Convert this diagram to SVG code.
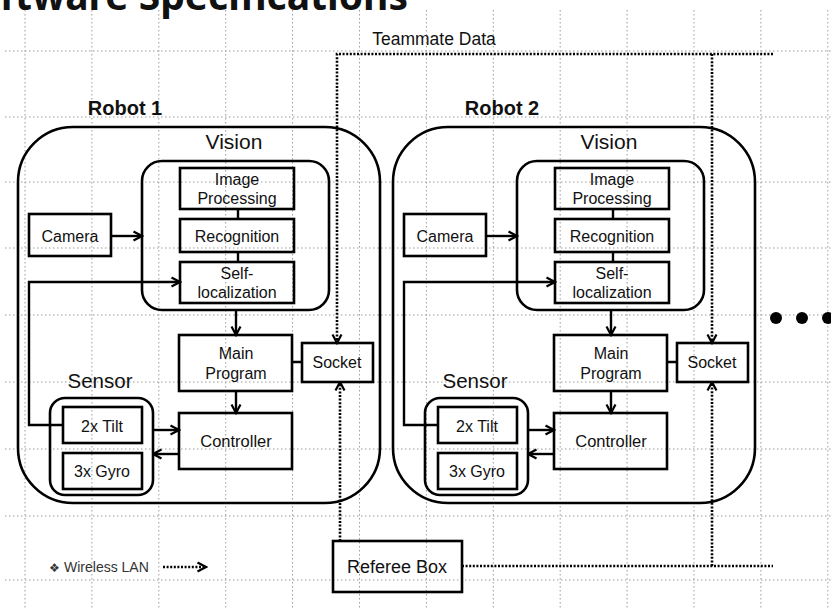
<svg xmlns="http://www.w3.org/2000/svg" width="831" height="609" viewBox="0 0 831 609">
<style>
.grid{fill:none;stroke:#9a9a9a;stroke-width:1;stroke-dasharray:1.5,2.5}
.box{fill:none;stroke:#000;stroke-width:2.6}
.ln{fill:none;stroke:#000;stroke-width:2.4}
.dot{fill:none;stroke:#000;stroke-width:2.6;stroke-dasharray:2,1.6}
text{font-family:"Liberation Sans","Noto Sans CJK KR",sans-serif;fill:#111}
.t{font-size:16px;text-anchor:middle}
.big{font-size:21px;text-anchor:middle}
.bold{font-weight:bold}
</style>
<defs>
<marker id="ah" viewBox="0 0 12 12" refX="10.5" refY="6" markerWidth="12" markerHeight="12" markerUnits="userSpaceOnUse" orient="auto">
<path d="M2,1.5 L10.5,6 L2,10.5" fill="none" stroke="#000" stroke-width="2.2"/>
</marker>
</defs>
<rect width="831" height="609" fill="#fff"/>
<g id="grid">
<path class="grid" d="M25,10V609M91.9,10V609M158.8,10V609M225.7,10V609M292.6,10V609M359.5,10V609M426.4,10V609M493.3,10V609M560.2,10V609M627.1,10V609M694,10V609M760.9,10V609M827.8,10V609"/>
<path class="grid" d="M5,51H831M5,117H831M5,182H831M5,248H831M5,315H831M5,382H831M5,449H831M5,516H831M5,580H831"/>
</g>
<text id="title" x="408" y="10" class="bold" style="font-family:'Noto Sans',sans-serif;font-size:39px;text-anchor:end">ftware Specifications</text>
<g id="robot1">
<text x="125" y="115" class="bold" style="font-size:20px;text-anchor:middle">Robot 1</text>
<rect id="r1-frame" class="box" x="18" y="127" width="362" height="376" rx="55"/>
<g id="r1-vision">
<text x="234" y="149" class="big">Vision</text>
<rect class="box" x="142" y="161" width="187" height="149" rx="20"/>
</g>
<g id="r1-image"><rect class="box" x="180" y="168" width="114" height="41"/><text x="237" y="185" class="t">Image</text><text x="237" y="204" class="t">Processing</text></g>
<g id="r1-recog"><rect class="box" x="180" y="219" width="114" height="33"/><text x="237" y="242" class="t">Recognition</text></g>
<g id="r1-self"><rect class="box" x="180" y="262" width="114" height="41"/><text x="237" y="278.5" class="t">Self-</text><text x="237" y="297.5" class="t">localization</text></g>
<g id="r1-camera"><rect class="box" x="29" y="214" width="82" height="42"/><text x="70" y="242" class="t">Camera</text></g>
<g id="r1-main"><rect class="box" x="179" y="335" width="113" height="56"/><text x="236" y="359" class="t">Main</text><text x="236" y="379" class="t">Program</text></g>
<g id="r1-socket"><rect class="box" x="302" y="343" width="71" height="39"/><text x="337" y="368" class="t">Socket</text></g>
<g id="r1-controller"><rect class="box" x="179" y="413" width="113" height="56"/><text x="236" y="447" class="t" style="font-size:16.5px">Controller</text></g>
<g id="r1-sensor">
<text x="100" y="388" class="big" style="font-size:20.5px">Sensor</text>
<rect class="box" x="50" y="398" width="103" height="97" rx="15"/>
</g>
<g id="r1-tilt"><rect class="box" x="63" y="407" width="79" height="36"/><text x="102" y="432" class="t">2x Tilt</text></g>
<g id="r1-gyro"><rect class="box" x="63" y="453" width="79" height="36"/><text x="102" y="477" class="t">3x Gyro</text></g>
</g>
<g id="robot2" transform="translate(375,0)">
<text x="127" y="115" class="bold" style="font-size:20px;text-anchor:middle">Robot 2</text>
<rect id="r2-frame" class="box" x="18" y="127" width="362" height="376" rx="55"/>
<g id="r2-vision">
<text x="234" y="149" class="big">Vision</text>
<rect class="box" x="142" y="161" width="187" height="149" rx="20"/>
</g>
<g id="r2-image"><rect class="box" x="180" y="168" width="114" height="41"/><text x="237" y="185" class="t">Image</text><text x="237" y="204" class="t">Processing</text></g>
<g id="r2-recog"><rect class="box" x="180" y="219" width="114" height="33"/><text x="237" y="242" class="t">Recognition</text></g>
<g id="r2-self"><rect class="box" x="180" y="262" width="114" height="41"/><text x="237" y="278.5" class="t">Self-</text><text x="237" y="297.5" class="t">localization</text></g>
<g id="r2-camera"><rect class="box" x="29" y="214" width="82" height="42"/><text x="70" y="242" class="t">Camera</text></g>
<g id="r2-main"><rect class="box" x="179" y="335" width="113" height="56"/><text x="236" y="359" class="t">Main</text><text x="236" y="379" class="t">Program</text></g>
<g id="r2-socket"><rect class="box" x="302" y="343" width="71" height="39"/><text x="337" y="368" class="t">Socket</text></g>
<g id="r2-controller"><rect class="box" x="179" y="413" width="113" height="56"/><text x="236" y="447" class="t" style="font-size:16.5px">Controller</text></g>
<g id="r2-sensor">
<text x="100" y="388" class="big" style="font-size:20.5px">Sensor</text>
<rect class="box" x="50" y="398" width="103" height="97" rx="15"/>
</g>
<g id="r2-tilt"><rect class="box" x="63" y="407" width="79" height="36"/><text x="102" y="432" class="t">2x Tilt</text></g>
<g id="r2-gyro"><rect class="box" x="63" y="453" width="79" height="36"/><text x="102" y="477" class="t">3x Gyro</text></g>
</g>
<g id="referee"><rect class="box" x="333" y="541" width="129" height="51"/><text x="397" y="573" style="font-size:18px;text-anchor:middle">Referee Box</text></g>
<g id="ellipsis"><circle cx="776" cy="318" r="6" fill="#000"/><circle cx="802" cy="318" r="6" fill="#000"/><circle cx="828" cy="318" r="6" fill="#000"/></g>
<g id="legend">
<text x="49" y="572" style="fill:#333"><tspan style="font-family:'DejaVu Sans',sans-serif;font-size:12px">❖</tspan><tspan x="64" style="font-size:14px">Wireless LAN</tspan></text>
<path class="dot" d="M163,567H206" marker-end="url(#ah)"/>
</g>
<g id="connectors">
<g id="r1-links">
<path class="ln" d="M111,236H142" marker-end="url(#ah)"/>
<path class="ln" d="M63,425H29V282H180" marker-end="url(#ah)"/>
<path class="ln" d="M238,209V219M238,252V262M292,362H302"/>
<path class="ln" d="M236,310V335" marker-end="url(#ah)"/>
<path class="ln" d="M236,391V413" marker-end="url(#ah)"/>
<path class="ln" d="M153,430H179" marker-end="url(#ah)"/>
<path class="ln" d="M179,454H153" marker-end="url(#ah)"/>
</g>
<g id="r2-links" transform="translate(375,0)">
<path class="ln" d="M111,236H142" marker-end="url(#ah)"/>
<path class="ln" d="M63,425H29V282H180" marker-end="url(#ah)"/>
<path class="ln" d="M238,209V219M238,252V262M292,362H302"/>
<path class="ln" d="M236,310V335" marker-end="url(#ah)"/>
<path class="ln" d="M236,391V413" marker-end="url(#ah)"/>
<path class="ln" d="M153,430H179" marker-end="url(#ah)"/>
<path class="ln" d="M179,454H153" marker-end="url(#ah)"/>
</g>
<g id="wireless">
<text x="434" y="45" style="font-size:17.5px;text-anchor:middle">Teammate Data</text>
<path class="dot" d="M773,54H337V343" marker-end="url(#ah)"/>
<path class="dot" d="M712,54V343" marker-end="url(#ah)"/>
<path class="dot" d="M340,541V382" marker-end="url(#ah)"/>
<path class="dot" d="M462,566H773"/>
<path class="dot" d="M712,566V382" marker-end="url(#ah)"/>
</g>
</g>
</svg>
